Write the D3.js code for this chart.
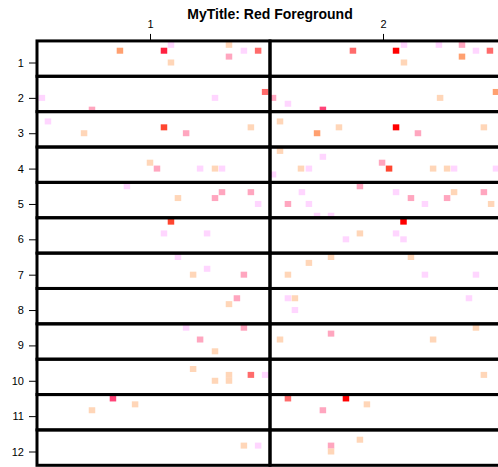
<!DOCTYPE html>
<html>
<head>
<meta charset="utf-8">
<script src="https://cdn.jsdelivr.net/npm/d3@7"></script>
<style>
  html, body { margin: 0; padding: 0; background: #ffffff; }
  svg { display: block; }
  text { font-family: "Liberation Sans", Arial, sans-serif; fill: #000; }
</style>
</head>
<body>
<svg id="chart" width="498" height="467"></svg>
<script>
// Panel labels
const rowLabels = ["1", "2", "3", "4", "5", "6", "7", "8", "9", "10", "11", "12"];
const colLabels = ["1", "2"];

// Shade categories used by the markers
const shadeNames  = ["red", "crimson", "vermilion", "salmon", "rose", "orange", "pink", "peach", "lilac"];
const shadeColors = ["#ff0000", "#ff2040", "#ff4630", "#ff6b6b", "#ff4478", "#ffa070", "#ffa6bf", "#ffd6b8", "#ffd6ff"];

// Markers: panel row, horizontal value, vertical sub-level (sixths of a row) and shade
const pointRow = [
  1, 1, 1, 1, 1, 1, 1, 1, 1, 1, 1, 1, 1, 1, 1, 1, 1,
  2, 2, 2, 2, 2, 2, 2, 2, 2,
  3, 3, 3, 3, 3, 3, 3, 3, 3, 3, 3,
  4, 4, 4, 4, 4, 4, 4, 4, 4, 4, 4, 4, 4, 4, 4, 4,
  5, 5, 5, 5, 5, 5, 5, 5, 5, 5, 5, 5, 5, 5, 5, 5, 5, 5, 5,
  6, 6, 6, 6, 6, 6, 6, 6,
  7, 7, 7, 7, 7, 7, 7, 7, 7, 7,
  8, 8, 8, 8, 8, 8,
  9, 9, 9, 9, 9, 9, 9, 9,
  10, 10, 10, 10, 10, 10, 10,
  11, 11, 11, 11, 11, 11, 11,
  12, 12, 12, 12, 12
];
const pointX = [
  0.871, 1.060, 1.090, 1.090, 1.339, 1.339, 1.403, 1.464, 1.871, 2.056, 2.090, 2.090, 2.240, 2.339, 2.339, 2.399, 2.459,
  0.536, 0.751, 1.279, 1.494, 1.528, 1.592, 1.742, 2.245, 2.485,
  0.562, 0.717, 1.060, 1.155, 1.433, 1.558, 1.717, 1.811, 2.056, 2.150, 2.433,
  1.000, 1.030, 1.215, 1.279, 1.309, 1.528, 1.558, 1.648, 1.682, 1.742, 1.996, 2.026, 2.215, 2.275, 2.305, 2.485,
  0.901, 1.120, 1.279, 1.309, 1.433, 1.464, 1.592, 1.652, 1.682, 1.717, 1.777, 1.901, 2.056, 2.120, 2.180, 2.275, 2.305, 2.433, 2.464,
  1.060, 1.090, 1.245, 1.841, 1.901, 2.056, 2.088, 2.088,
  1.120, 1.185, 1.245, 1.403, 1.592, 1.682, 1.777, 2.120, 2.180, 2.399,
  1.339, 1.373, 1.592, 1.622, 1.622, 2.369,
  1.155, 1.215, 1.279, 1.403, 1.558, 1.777, 2.215, 2.399,
  1.185, 1.279, 1.339, 1.339, 1.433, 1.494, 2.433,
  0.751, 0.841, 0.936, 1.592, 1.742, 1.841, 1.931,
  1.403, 1.464, 1.777, 1.777, 1.901
];
const pointLevel = [
  -2, -2, -3, 0, -3, -1, -2, -2, -2, -2, -3, 0, -3, -3, -1, -2, -2,
  0, 2, 0, -1, 0, 1, 2, 0, -1,
  -2, 0, -1, 0, -1, -2, 0, -1, -1, 0, -1,
  -1, 0, 0, 0, 0, 1, -3, 0, 0, -2, -1, 0, 0, 0, 0, 0,
  -3, -1, -1, -2, -2, 0, 0, -2, 0, 2, 2, -3, -2, -1, 0, -1, -2, -2, 0,
  -1, -3, -1, 0, -1, -1, -3, 0,
  -3, 0, -1, 0, 0, -2, -3, -3, 0, 0,
  -1, -2, -2, -2, 0, -2,
  -3, -1, 1, -3, -1, -2, -1, -3,
  -2, 0, -1, 0, -1, -1, -1,
  -1, -3, -2, -3, -1, -3, -2,
  -1, -1, -1, 0, -2
];
const pointShade = [
  "orange", "crimson", "lilac", "peach", "peach", "pink", "lilac", "salmon", "salmon", "red", "lilac", "peach", "lilac", "pink", "orange", "lilac", "salmon",
  "lilac", "pink", "lilac", "salmon", "pink", "lilac", "rose", "peach", "orange",
  "lilac", "peach", "vermilion", "pink", "peach", "peach", "orange", "peach", "red", "pink", "peach",
  "peach", "pink", "lilac", "peach", "lilac", "lilac", "peach", "peach", "lilac", "lilac", "pink", "vermilion", "peach", "peach", "lilac", "lilac",
  "lilac", "peach", "pink", "pink", "pink", "lilac", "pink", "lilac", "lilac", "lilac", "lilac", "pink", "lilac", "pink", "lilac", "pink", "peach", "pink", "peach",
  "lilac", "vermilion", "lilac", "lilac", "peach", "lilac", "red", "lilac",
  "lilac", "peach", "lilac", "pink", "peach", "peach", "peach", "peach", "lilac", "lilac",
  "peach", "pink", "lilac", "peach", "lilac", "lilac",
  "lilac", "pink", "peach", "pink", "peach", "pink", "peach", "peach",
  "peach", "peach", "peach", "peach", "salmon", "lilac", "peach",
  "peach", "rose", "peach", "salmon", "pink", "red", "peach",
  "peach", "lilac", "pink", "peach", "peach"
];

const svg = d3.select("#chart");

// Scales: columns along x, rows along y (row 1 at the top)
const x = d3.scaleLinear().domain([1, 2]).range([150, 383]);
const y = d3.scaleLinear().domain([1, 12]).range([62.5, 451.5]);
const color = d3.scaleOrdinal().domain(shadeNames).range(shadeColors);

const colLo = -0.485, colHi = 0.515;   // panel extent around each column value
const rowLo = -0.61,  rowHi = 0.39;    // panel extent around each row value

const points = pointRow.map((r, i) => ({
  row: r,
  x: pointX[i],
  y: r + pointLevel[i] / 6,
  shade: pointShade[i]
}));

// Markers
const markW = 6.5, markH = 6;
svg.append("g")
  .selectAll("rect")
  .data(points)
  .join("rect")
  .attr("x", d => x(d.x) - markW / 2)
  .attr("y", d => y(d.y) - markH / 2)
  .attr("width", markW)
  .attr("height", markH)
  .attr("fill", d => color(d.shade));

// Panel frames
const panels = [];
rowLabels.forEach((rl, ri) => {
  colLabels.forEach((cl, ci) => panels.push({ r: ri + 1, c: ci + 1 }));
});
svg.append("g")
  .selectAll("rect")
  .data(panels)
  .join("rect")
  .attr("x", d => x(d.c + colLo))
  .attr("y", d => y(d.r + rowLo))
  .attr("width", d => x(d.c + colHi) - x(d.c + colLo))
  .attr("height", d => y(d.r + rowHi) - y(d.r + rowLo))
  .attr("fill", "none")
  .attr("stroke", "#000")
  .attr("stroke-width", 3);

// Top axis with column labels
const topY = y(1 + rowLo);
const xAxis = d3.axisTop(x)
  .tickValues(colLabels.map(Number))
  .tickFormat(d => colLabels[d - 1])
  .tickSize(7)
  .tickPadding(6);
const gx = svg.append("g").attr("transform", `translate(0,${topY})`).call(xAxis);
gx.select(".domain").remove();
gx.selectAll("line").attr("stroke", "#000").attr("stroke-width", 1);
gx.selectAll("text").attr("font-size", 11).attr("font-family", "Liberation Sans, Arial, sans-serif");

// Left axis with row labels
const leftX = x(1 + colLo);
const yAxis = d3.axisLeft(y)
  .tickValues(rowLabels.map(Number))
  .tickFormat(d => rowLabels[d - 1])
  .tickSize(8)
  .tickPadding(5);
const gy = svg.append("g").attr("transform", `translate(${leftX},0)`).call(yAxis);
gy.select(".domain").remove();
gy.selectAll("line").attr("stroke", "#000").attr("stroke-width", 1);
gy.selectAll("text").attr("font-size", 11).attr("font-family", "Liberation Sans, Arial, sans-serif");

// Title
svg.append("text")
  .attr("x", 270)
  .attr("y", 19)
  .attr("text-anchor", "middle")
  .attr("font-size", 14)
  .attr("font-weight", "bold")
  .text("MyTitle: Red Foreground");
</script>
</body>
</html>
